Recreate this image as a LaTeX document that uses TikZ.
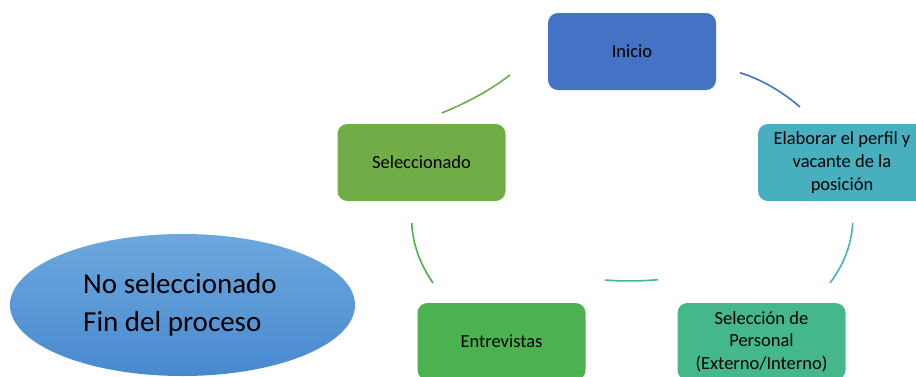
\documentclass[tikz,border=0pt]{standalone}
\usepackage{fontspec}
\setmainfont{Carlito}
\usetikzlibrary{shapes.geometric}
\definecolor{cInicio}{HTML}{4472C4}
\definecolor{cElab}{HTML}{48AFBF}
\definecolor{cSelP}{HTML}{45B88B}
\definecolor{cEntr}{HTML}{4CB151}
\definecolor{cSel}{HTML}{70AD47}
\definecolor{cEllTop}{HTML}{6DA7DD}
\definecolor{cEllBot}{HTML}{4889CF}
\tikzset{
  stepbox/.style={draw=none, rounded corners=10pt, minimum width=168pt, minimum height=77pt,
    inner sep=2pt, align=center, font=\fontsize{18.5}{22.6}\selectfont},
  arcline/.style={line width=1.6pt},
}
\begin{document}
\begin{tikzpicture}[x=1pt,y=-1pt]
\useasboundingbox (0,0) rectangle (916,376);
\clip (0,0) rectangle (916,376);
\fill[white] (0,0) rectangle (916,376);
% boxes
\node[stepbox, fill=cInicio] (inicio) at (632,51.5) {Inicio};
\node[stepbox, fill=cElab] (elab) at (842,162.5) {Elaborar el perfil y\\vacante de la\\posición};
\node[stepbox, fill=cSelP] (selp) at (761.5,341.5) {Selección de\\Personal\\(Externo/Interno)};
\node[stepbox, fill=cEntr] (entr) at (501.5,341.5) {Entrevistas};
\node[stepbox, fill=cSel] (sel) at (421.5,162.5) {Seleccionado};
% ellipse
\node[ellipse, draw=none, top color=cEllTop, bottom color=cEllBot, minimum width=345pt, minimum height=142pt,
  align=left, font=\fontsize{29}{38}\selectfont] (fin) at (182.5,305) {\hspace*{-5pt}No seleccionado\\\hspace*{-5pt}Fin del proceso};
% arc ends
\coordinate (a1s) at (740,72.7);   \coordinate (a1e) at (800,107);
\coordinate (a2s) at (852.7,223);  \coordinate (a2e) at (830,283);
\coordinate (a3s) at (658,279.7);  \coordinate (a3e) at (605,280);
\coordinate (a4s) at (433,283);    \coordinate (a4e) at (411.7,223);
\coordinate (a5s) at (441.7,113);  \coordinate (a5e) at (510,75);
\draw[arcline, cInicio] (a1s) .. controls (761.47,79.53) and (781.47,90.97) .. (a1e);
\draw[arcline, cElab] (a2s) .. controls (851.6,244.2) and (844.03,264.2) .. (a2e);
\draw[arcline, cSelP] (a3s) .. controls (640.33,281.23) and (622.67,281.33) .. (a3e);
\draw[arcline, cEntr] (a4s) .. controls (419.83,263.93) and (412.73,243.93) .. (a4e);
\draw[arcline, cSel] (a5s) .. controls (468.4,102.2) and (491.17,89.53) .. (a5e);
\end{tikzpicture}
\end{document}
